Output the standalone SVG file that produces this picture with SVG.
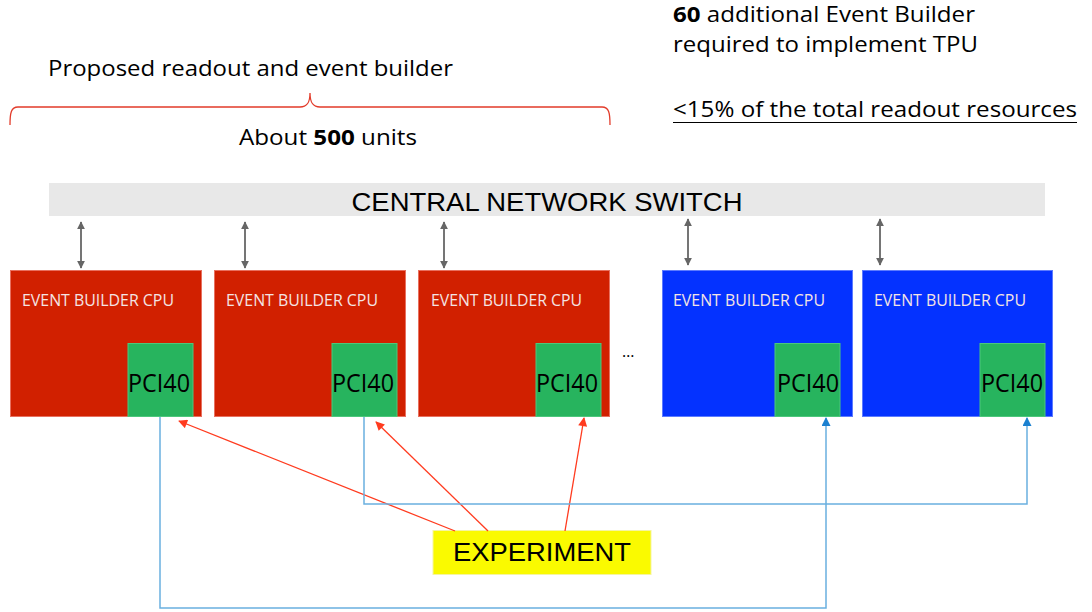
<svg xmlns="http://www.w3.org/2000/svg" width="1092" height="612" viewBox="0 0 1092 612">
<defs>
<style>
.cal{font-family:"Open Sans","Lato","Liberation Sans",sans-serif;}
.ar{font-family:"Liberation Sans",Arial,sans-serif;}
.red{fill:#D12000;stroke:#E8705F;stroke-width:1}
.blue{fill:#0432FF;stroke:#5C7BFF;stroke-width:1}
.green{fill:#27B45E;stroke:#4CC77C;stroke-width:1}
.cpu{fill:#F4E4E4;font-size:15.5px}
.pci{fill:#000;font-size:25px;text-anchor:end}
.gray{stroke:#666666;stroke-width:1.8;fill:none}
.rl{stroke:#FF3B1F;stroke-width:1.3;fill:none}
.bl{stroke:#6AB0E0;stroke-width:1.5;fill:none}
</style>
<marker id="ga" viewBox="0 0 10 10" refX="9" refY="5" markerWidth="8" markerHeight="8" orient="auto-start-reverse" markerUnits="userSpaceOnUse"><path d="M0,0 L10,5 L0,10 z" fill="#666666"/></marker>
<marker id="ra" viewBox="0 0 10 10" refX="9" refY="5" markerWidth="11" markerHeight="9" orient="auto" markerUnits="userSpaceOnUse"><path d="M0,0 L10,5 L0,10 z" fill="#FF3B1F"/></marker>
<marker id="ba" viewBox="0 0 10 10" refX="9" refY="5" markerWidth="11" markerHeight="9" orient="auto" markerUnits="userSpaceOnUse"><path d="M0,0 L10,5 L0,10 z" fill="#1A80D0"/></marker>
</defs>
<rect width="1092" height="612" fill="#FFFFFF"/>

<g id="title-left">
<text class="cal" x="48" y="76" font-size="22" textLength="405" lengthAdjust="spacingAndGlyphs" fill="#000">Proposed readout and event builder</text>
<path d="M10,125 C10,113 11,107 18,107 L300,107 C307,107 310,103 310,93 C310,103 313,107 320,107 L602,107 C609,107 610,113 610,125" fill="none" stroke="#E23B2A" stroke-width="1.3"/>
<text class="cal" x="239" y="145" font-size="22" textLength="178" lengthAdjust="spacingAndGlyphs" fill="#000">About <tspan font-weight="bold">500</tspan> units</text>
</g>

<g id="title-right">
<text class="cal" x="673" y="22" font-size="21" textLength="302" lengthAdjust="spacingAndGlyphs" fill="#000"><tspan font-weight="bold">60</tspan> additional Event Builder</text>
<text class="cal" x="673" y="52" font-size="22" textLength="305" lengthAdjust="spacingAndGlyphs" fill="#000">required to implement TPU</text>
<text class="cal" x="673" y="117" font-size="22" textLength="404" lengthAdjust="spacingAndGlyphs" fill="#000">&lt;15% of the total readout resources</text>
<line x1="673" y1="122.5" x2="1077" y2="122.5" stroke="#000" stroke-width="1.2"/>
</g>

<g id="switch">
<rect x="49" y="183" width="996" height="33" fill="#E8E8E8"/>
<text class="ar" x="547" y="211" font-size="26" text-anchor="middle" textLength="391" lengthAdjust="spacingAndGlyphs" fill="#000">CENTRAL NETWORK SWITCH</text>
</g>

<g id="eb1">
<rect class="red" x="10.5" y="270.5" width="191" height="146"/>
<text class="cal cpu" x="22" y="306" textLength="152" lengthAdjust="spacingAndGlyphs">EVENT BUILDER CPU</text>
<rect class="green" x="128" y="343.5" width="65" height="73"/>
<text class="cal pci" x="190" y="392" textLength="62" lengthAdjust="spacingAndGlyphs">PCI40</text>
</g>
<g id="eb2">
<rect class="red" x="214.5" y="270.5" width="191" height="146"/>
<text class="cal cpu" x="226" y="306" textLength="152" lengthAdjust="spacingAndGlyphs">EVENT BUILDER CPU</text>
<rect class="green" x="332" y="343.5" width="65" height="73"/>
<text class="cal pci" x="394" y="392" textLength="62" lengthAdjust="spacingAndGlyphs">PCI40</text>
</g>
<g id="eb3">
<rect class="red" x="418.5" y="270.5" width="191" height="146"/>
<text class="cal cpu" x="431" y="306" textLength="151" lengthAdjust="spacingAndGlyphs">EVENT BUILDER CPU</text>
<rect class="green" x="536" y="343.5" width="65" height="73"/>
<text class="cal pci" x="598" y="392" textLength="62" lengthAdjust="spacingAndGlyphs">PCI40</text>
</g>
<text id="ellipsis" class="cal" x="622" y="357" font-size="16" fill="#000">…</text>
<g id="eb4">
<rect class="blue" x="662.5" y="270.5" width="190" height="146"/>
<text class="cal cpu" x="673" y="306" textLength="152" lengthAdjust="spacingAndGlyphs">EVENT BUILDER CPU</text>
<rect class="green" x="775" y="343.5" width="65" height="73"/>
<text class="cal pci" x="839" y="392" textLength="62" lengthAdjust="spacingAndGlyphs">PCI40</text>
</g>
<g id="eb5">
<rect class="blue" x="862.5" y="270.5" width="190" height="146"/>
<text class="cal cpu" x="874" y="306" textLength="152" lengthAdjust="spacingAndGlyphs">EVENT BUILDER CPU</text>
<rect class="green" x="980" y="343.5" width="65" height="73"/>
<text class="cal pci" x="1043" y="392" textLength="62" lengthAdjust="spacingAndGlyphs">PCI40</text>
</g>

<g id="experiment">
<rect x="433" y="530.5" width="218" height="44" fill="#FAFA00" stroke="#F5F5A0" stroke-width="1"/>
<text class="ar" x="542" y="561" font-size="26" text-anchor="middle" textLength="178" lengthAdjust="spacingAndGlyphs" fill="#000">EXPERIMENT</text>
</g>

<g id="connectors">
<line class="gray" x1="81" y1="222" x2="81" y2="268" marker-start="url(#ga)" marker-end="url(#ga)"/>
<line class="gray" x1="245" y1="222" x2="245" y2="268" marker-start="url(#ga)" marker-end="url(#ga)"/>
<line class="gray" x1="444" y1="222" x2="444" y2="268" marker-start="url(#ga)" marker-end="url(#ga)"/>
<line class="gray" x1="688" y1="219" x2="688" y2="265" marker-start="url(#ga)" marker-end="url(#ga)"/>
<line class="gray" x1="880" y1="219" x2="880" y2="265" marker-start="url(#ga)" marker-end="url(#ga)"/>
<line class="rl" x1="455" y1="531" x2="179" y2="421" marker-end="url(#ra)"/>
<line class="rl" x1="488" y1="531" x2="376" y2="422" marker-end="url(#ra)"/>
<line class="rl" x1="565" y1="531" x2="584" y2="418" marker-end="url(#ra)"/>
<polyline class="bl" points="160,417 160,608 826,608 826,418" marker-end="url(#ba)"/>
<polyline class="bl" points="364,417 364,504 1027,504 1027,418" marker-end="url(#ba)"/>
</g>
</svg>
